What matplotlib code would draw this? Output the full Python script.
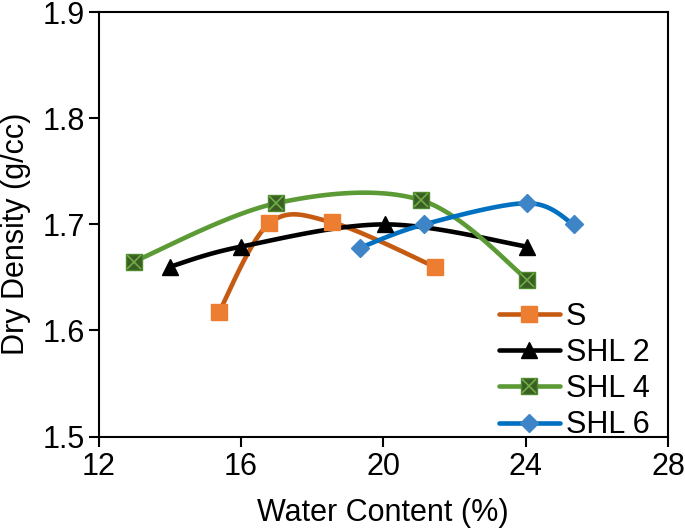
import numpy as np
import matplotlib
matplotlib.use('Agg')
import matplotlib.pyplot as plt
from matplotlib.lines import Line2D

plt.rcParams['font.family'] = ['Liberation Sans', 'DejaVu Sans']

# dados
s_x = [15.38, 16.8, 18.55, 21.45]
s_y = [1.617, 1.701, 1.702, 1.660]

shl2_x = [14.0, 16.0, 20.05, 24.05]
shl2_y = [1.660, 1.679, 1.700, 1.679]

shl4_x = [13.0, 17.0, 21.05, 24.05]
shl4_y = [1.665, 1.720, 1.723, 1.648]

shl6_x = [19.35, 21.15, 24.05, 25.35]
shl6_y = [1.678, 1.700, 1.720, 1.700]

x_ticks = [12, 16, 20, 24, 28]
y_ticks = [1.5, 1.6, 1.7, 1.8, 1.9]

FONTE = 22


def suavizar(ax, xs, ys, n=40):
    # curva suave estilo Excel (Catmull-Rom em coordenadas de tela)
    pts = ax.transData.transform(np.column_stack([xs, ys]))
    ext = np.vstack([pts[0], pts, pts[-1]])
    curva = []
    for i in range(len(pts) - 1):
        p0, p1, p2, p3 = ext[i], ext[i + 1], ext[i + 2], ext[i + 3]
        c1 = p1 + (p2 - p0) / 6
        c2 = p2 - (p3 - p1) / 6
        t = np.linspace(0, 1, n)[:, None]
        seg = (1 - t) ** 3 * p1 + 3 * (1 - t) ** 2 * t * c1 + 3 * (1 - t) * t ** 2 * c2 + t ** 3 * p2
        curva.append(seg if i == 0 else seg[1:])
    curva = np.vstack(curva)
    dados = ax.transData.inverted().transform(curva)
    return dados[:, 0], dados[:, 1]


fig = plt.figure(figsize=(6.85, 5.32), dpi=100)
ax = fig.add_axes([0.1438, 0.1795, 0.9752 - 0.1438, 0.9769 - 0.1795])
ax.set_xlim(12, 28)
ax.set_ylim(1.5, 1.9)

series = [
    ('S', s_x, s_y, '#C55A11', dict(marker='s', ms=12, mfc='#ED7D31', mec='#ED7D31')),
    ('SHL 2', shl2_x, shl2_y, 'black', dict(marker='^', ms=11, mfc='black', mec='black')),
    ('SHL 4', shl4_x, shl4_y, '#5B9A35', dict(marker='s', ms=11.5, mfc='#3A5E24', mec='#4F8A2E')),
    ('SHL 6', shl6_x, shl6_y, '#0070C0', dict(marker='D', ms=9, mfc='#3D85C6', mec='#3D85C6')),
]

handles = []
for nome, xs, ys, cor, mk in series:
    cx, cy = suavizar(ax, xs, ys)
    ax.plot(cx, cy, color=cor, lw=3.3, solid_capstyle='round', zorder=2)
    ax.plot(xs, ys, ls='none', zorder=3, **mk)
    h = Line2D([], [], color=cor, lw=3.3, solid_capstyle='round', **mk)
    if nome == 'SHL 4':
        ax.plot(xs, ys, ls='none', marker='x', ms=10, mec='#6FAD47', mew=1.2, zorder=4)
        hx = Line2D([], [], ls='none', marker='x', ms=10, mec='#6FAD47', mew=1.2)
        h = (h, hx)
    handles.append(h)

ax.legend(handles, [s[0] for s in series], loc='lower right', bbox_to_anchor=(1.0, -0.052),
          frameon=False, fontsize=FONTE, handlelength=2.0, handletextpad=0.2,
          labelspacing=0.2, borderaxespad=0.2)

ax.set_xticks(x_ticks)
ax.set_yticks(y_ticks)
ax.set_yticklabels([f'{v:.1f}' for v in y_ticks])
ax.tick_params(axis='both', direction='out', length=7, width=1.5, labelsize=FONTE, pad=3)
ax.tick_params(axis='x', pad=4)
for sp in ax.spines.values():
    sp.set_linewidth(1.5)

ax.set_xlabel('Water Content (%)', fontsize=FONTE)
ax.set_ylabel('Dry Density (g/cc)', fontsize=FONTE)
ax.xaxis.set_label_coords(0.5, -0.145)
ax.yaxis.set_label_coords(-0.118, 0.478)

fig.savefig('out.png', dpi=100)
